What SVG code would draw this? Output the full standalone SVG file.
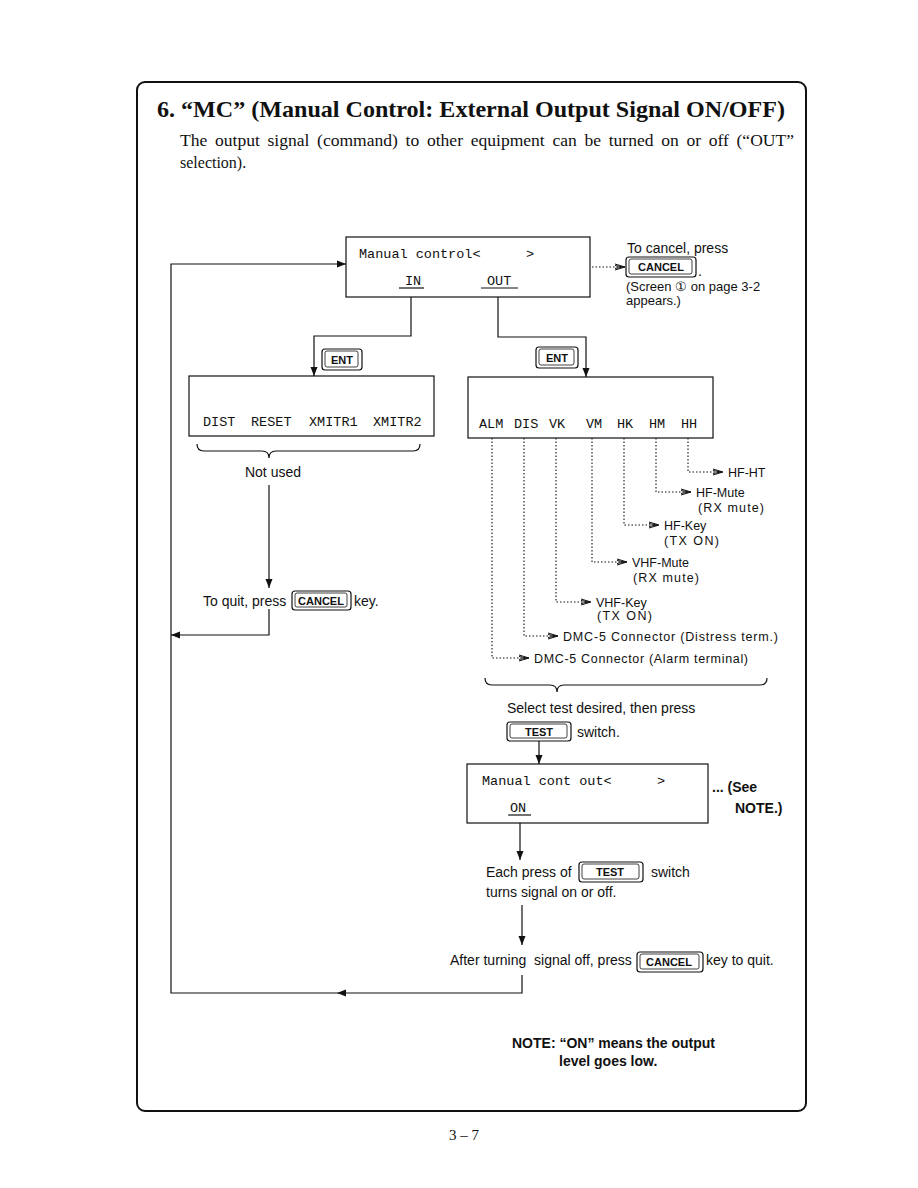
<svg xmlns="http://www.w3.org/2000/svg" width="918" height="1188" viewBox="0 0 918 1188">
<style>
.ser{font-family:"Liberation Serif","Times New Roman",serif;fill:#111}
.mono{font-family:"Liberation Mono","Courier New",monospace;font-size:13.5px;fill:#111}
.sans{font-family:"Liberation Sans",Arial,sans-serif;font-size:14px;fill:#111}
.small{font-family:"Liberation Sans",Arial,sans-serif;font-size:12.5px;fill:#111}
.note13{font-family:"Liberation Sans",Arial,sans-serif;font-size:13px;fill:#111}
.bold{font-family:"Liberation Sans",Arial,sans-serif;font-weight:bold;fill:#111}
.box{fill:#fff;stroke:#111;stroke-width:1.2}
.ln{fill:none;stroke:#111;stroke-width:1.2}
.dot{fill:none;stroke:#111;stroke-width:1.1;stroke-dasharray:1.5 2}
.k1{fill:#fff;stroke:#111;stroke-width:1.2}
.k2{fill:none;stroke:#111;stroke-width:0.8}
.kt{font-family:"Liberation Sans",Arial,sans-serif;font-weight:bold;font-size:11px;fill:#111;text-anchor:middle}
</style>
<defs>
<marker id="ah" markerUnits="userSpaceOnUse" markerWidth="10" markerHeight="8" refX="9" refY="4" orient="auto">
<path d="M0,0.5 L9,4 L0,7.5 Z" fill="#111"/>
</marker>
<marker id="oh" markerUnits="userSpaceOnUse" markerWidth="12" markerHeight="8" refX="10" refY="4" orient="auto">
<path d="M0,1 L10,4 L0,7 M0,2.5 L8,4 L0,5.5" fill="none" stroke="#111" stroke-width="1"/>
</marker>
</defs>

<rect id="frame" x="137" y="82" width="669" height="1029" rx="8" fill="none" stroke="#111" stroke-width="2"/>

<g id="heading">
<text class="ser" x="157" y="117" font-size="23" font-weight="bold" textLength="628" lengthAdjust="spacingAndGlyphs">6. “MC” (Manual Control: External Output Signal ON/OFF)</text>
<text class="ser" x="180" y="146" font-size="16" word-spacing="3" textLength="614" lengthAdjust="spacingAndGlyphs">The output signal (command) to other equipment can be turned on or off (“OUT”</text>
<text class="ser" x="180" y="168" font-size="16">selection).</text>
</g>

<g id="connectors">
<path class="ln" d="M522,975 L522,993 L171,993 L171,264 L346,264" marker-end="url(#ah)"/>
<path d="M336,989.5 L345,993 L336,996.5 Z" fill="#111" transform="rotate(180 341 993)"/>
<path class="ln" d="M411,288 L411,336 L314,336 L314,376" marker-end="url(#ah)"/>
<path class="ln" d="M498,288 L498,337 L586,337 L586,377" marker-end="url(#ah)"/>
<path class="ln" d="M269,485 L269,588" marker-end="url(#ah)"/>
<path class="ln" d="M269,609 L269,635 L171,635" marker-end="url(#ah)"/>
<path class="dot" d="M592,267 L625,267" marker-end="url(#oh)"/>
<path class="dot" d="M688,438 L688,472 L723,472" marker-end="url(#oh)"/>
<path class="dot" d="M656,438 L656,492 L691,492" marker-end="url(#oh)"/>
<path class="dot" d="M624,438 L624,525 L659,525" marker-end="url(#oh)"/>
<path class="dot" d="M592,438 L592,562 L627,562" marker-end="url(#oh)"/>
<path class="dot" d="M556,438 L556,602 L591,602" marker-end="url(#oh)"/>
<path class="dot" d="M524,438 L524,636 L558,636" marker-end="url(#oh)"/>
<path class="dot" d="M492,438 L492,658 L529,658" marker-end="url(#oh)"/>
<path class="ln" d="M539,741 L539,764" marker-end="url(#ah)"/>
<path class="ln" d="M520,814 L520,860" marker-end="url(#ah)"/>
<path class="ln" d="M522,905 L522,945" marker-end="url(#ah)"/>
<path class="ln" stroke-width="0.9" d="M197,444 Q197,451 204,451 L262,451 Q269,451 269,458 Q269,451 276,451 L413,451 Q420,451 420,444"/>
<path class="ln" stroke-width="0.9" d="M485,678 Q485,685 492,685 L550,685 Q557,685 557,692 Q557,685 564,685 L760,685 Q767,685 767,678"/>
</g>

<g id="screen-main">
<rect class="box" x="346" y="237" width="244" height="60"/>
<text class="mono" x="359" y="258">Manual control&lt;</text>
<text class="mono" x="526" y="258">&gt;</text>
<text class="mono" x="405" y="285">IN</text>
<line class="ln" x1="399" y1="288" x2="424" y2="288"/>
<text class="mono" x="487" y="285">OUT</text>
<line class="ln" x1="481" y1="288" x2="518" y2="288"/>
</g>

<g id="cancel-note">
<text class="sans" x="627" y="253">To cancel, press</text>
<rect class="k1" x="626" y="257" width="70" height="20" rx="3"/>
<rect class="k2" x="629" y="259" width="63" height="15" rx="2"/>
<text class="kt" x="661" y="271">CANCEL</text>
<text class="sans" x="698" y="276">.</text>
<text class="note13" x="626" y="291">(Screen ① on page 3-2</text>
<text class="note13" x="626" y="305">appears.)</text>
</g>

<g id="key-ent-in">
<rect class="k1" x="322" y="349" width="40" height="21" rx="3"/>
<rect class="k2" x="325" y="351" width="33" height="16" rx="2"/>
<text class="kt" x="342" y="364">ENT</text>
</g>
<g id="key-ent-out">
<rect class="k1" x="536" y="347" width="42" height="21" rx="3"/>
<rect class="k2" x="539" y="349" width="35" height="16" rx="2"/>
<text class="kt" x="557" y="362">ENT</text>
</g>

<g id="screen-in">
<rect class="box" x="189" y="376" width="245" height="60"/>
<text class="mono" x="203" y="426">DIST</text>
<text class="mono" x="251" y="426">RESET</text>
<text class="mono" x="309" y="426">XMITR1</text>
<text class="mono" x="373" y="426">XMITR2</text>
</g>
<text id="not-used" class="sans" x="273" y="477" text-anchor="middle">Not used</text>

<g id="quit-in">
<text class="sans" x="203" y="606">To quit, press</text>
<rect class="k1" x="292" y="591" width="59" height="19" rx="3"/>
<rect class="k2" x="295" y="593" width="52" height="14" rx="2"/>
<text class="kt" x="321" y="604.5">CANCEL</text>
<text class="sans" x="354" y="606">key.</text>
</g>

<g id="screen-out">
<rect class="box" x="468" y="377" width="245" height="61"/>
<text class="mono" x="479" y="428">ALM</text>
<text class="mono" x="514" y="428">DIS</text>
<text class="mono" x="549" y="428">VK</text>
<text class="mono" x="586" y="428">VM</text>
<text class="mono" x="617" y="428">HK</text>
<text class="mono" x="649" y="428">HM</text>
<text class="mono" x="681" y="428">HH</text>
</g>

<g id="outputs">
<text class="small" x="728" y="477">HF-HT</text>
<text class="small" x="696" y="497">HF-Mute</text>
<text class="small" x="698" y="512" textLength="66" lengthAdjust="spacing">(RX  mute)</text>
<text class="small" x="664" y="530">HF-Key</text>
<text class="small" x="664" y="545" textLength="55" lengthAdjust="spacing">(TX  ON)</text>
<text class="small" x="632" y="567">VHF-Mute</text>
<text class="small" x="633" y="582" textLength="66" lengthAdjust="spacing">(RX  mute)</text>
<text class="small" x="596" y="607">VHF-Key</text>
<text class="small" x="597" y="620" textLength="55" lengthAdjust="spacing">(TX  ON)</text>
<text class="small" x="563" y="641" textLength="215" lengthAdjust="spacing">DMC-5 Connector (Distress term.)</text>
<text class="small" x="534" y="663" textLength="214" lengthAdjust="spacing">DMC-5 Connector (Alarm terminal)</text>
</g>

<g id="select-test">
<text class="sans" x="507" y="713">Select test desired, then press</text>
<rect class="k1" x="507" y="722" width="64" height="19" rx="3"/>
<rect class="k2" x="510" y="724" width="57" height="14" rx="2"/>
<text class="kt" x="539" y="735.5">TEST</text>
<text class="sans" x="577" y="737">switch.</text>
</g>

<g id="screen-on">
<rect class="box" x="467" y="764" width="241" height="59"/>
<text class="mono" x="482" y="785">Manual cont out&lt;</text>
<text class="mono" x="657" y="785">&gt;</text>
<text class="mono" x="510" y="812">ON</text>
<line class="ln" x1="508" y1="815" x2="531" y2="815"/>
</g>
<g id="see-note">
<text class="bold" x="712" y="792" font-size="14">... (See</text>
<text class="bold" x="735" y="813" font-size="14">NOTE.)</text>
</g>

<g id="each-press">
<text class="sans" x="486" y="877">Each press of</text>
<rect class="k1" x="579" y="862" width="64" height="20" rx="3"/>
<rect class="k2" x="582" y="864" width="57" height="15" rx="2"/>
<text class="kt" x="610" y="876">TEST</text>
<text class="sans" x="651" y="877">switch</text>
<text class="sans" x="486" y="897">turns signal on or off.</text>
</g>

<g id="after-off">
<text class="sans" x="450" y="965" xml:space="preserve">After turning  signal off, press</text>
<rect class="k1" x="637" y="952" width="66" height="20" rx="3"/>
<rect class="k2" x="640" y="954" width="59" height="15" rx="2"/>
<text class="kt" x="669" y="966">CANCEL</text>
<text class="sans" x="706" y="965">key to quit.</text>
</g>

<g id="note">
<text class="bold" x="512" y="1048" font-size="14">NOTE: “ON” means the output</text>
<text class="bold" x="559" y="1066" font-size="14">level goes low.</text>
</g>

<text id="page" class="ser" x="464" y="1140" font-size="15" text-anchor="middle">3 – 7</text>
</svg>
